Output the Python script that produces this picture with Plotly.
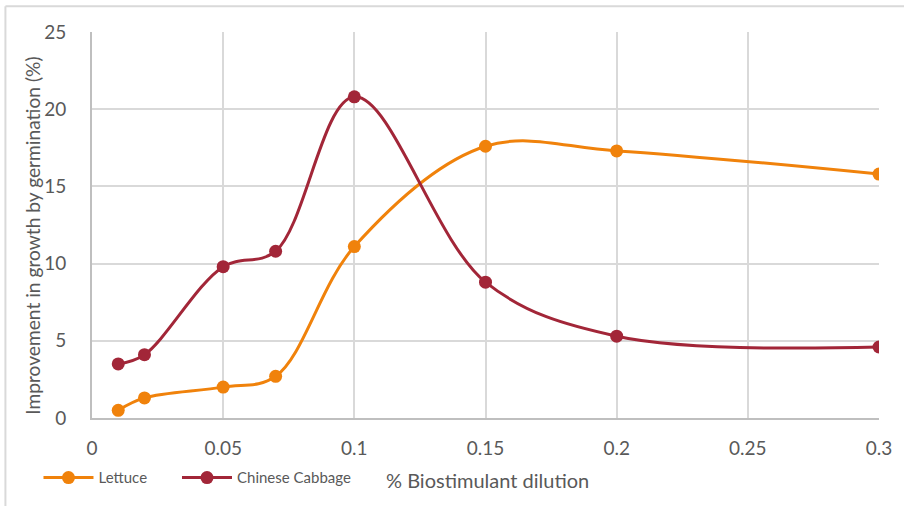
import plotly.graph_objects as go

# Dilution levels (% biostimulant) and germination improvement (%)
dilution = [0.01, 0.02, 0.05, 0.07, 0.1, 0.15, 0.2, 0.3]
lettuce = [0.5, 1.3, 2.0, 2.7, 11.1, 17.6, 17.3, 15.8]
chinese_cabbage = [3.5, 4.1, 9.8, 10.8, 20.8, 8.8, 5.3, 4.6]

x_ticks = [0, 0.05, 0.1, 0.15, 0.2, 0.25, 0.3]
x_tick_labels = ["0", "0.05", "0.1", "0.15", "0.2", "0.25", "0.3"]
y_ticks = [0, 5, 10, 15, 20, 25]

ORANGE = "#F0820B"
CRIMSON = "#A22638"
TEXT = "#595959"
GRID = "#D9D9D9"
AXIS = "#BFBFBF"
FONT = "Lato, Carlito, Calibri, sans-serif"

fig = go.Figure()
fig.add_trace(go.Scatter(
    x=dilution, y=lettuce, name="Lettuce",
    mode="lines+markers", legend="legend",
    line=dict(color=ORANGE, width=3, shape="spline", smoothing=1),
    marker=dict(color=ORANGE, size=13),
))
fig.add_trace(go.Scatter(
    x=dilution, y=chinese_cabbage, name="Chinese Cabbage",
    mode="lines+markers", legend="legend2",
    line=dict(color=CRIMSON, width=3, shape="spline", smoothing=1),
    marker=dict(color=CRIMSON, size=13),
))

legend_style = dict(
    orientation="h", y=-0.155, xanchor="left", yanchor="middle",
    font=dict(size=15, color=TEXT, family=FONT),
    itemwidth=50, bgcolor="rgba(0,0,0,0)",
)

fig.update_layout(
    width=904, height=506,
    margin=dict(l=92, r=23, t=32, b=87),
    paper_bgcolor="white", plot_bgcolor="white",
    font=dict(family=FONT, color=TEXT),
    showlegend=True,
    legend=dict(x=-0.068, **legend_style),
    legend2=dict(x=0.108, **legend_style),
    xaxis=dict(
        range=[0, 0.3], tickvals=x_ticks, ticktext=x_tick_labels,
        showgrid=True, gridcolor=GRID, gridwidth=2,
        showline=True, linecolor=AXIS, linewidth=2,
        zeroline=False, ticks="", ticklabelstandoff=12,
        tickfont=dict(size=19, color=TEXT, family=FONT),
    ),
    yaxis=dict(
        range=[0, 25], tickvals=y_ticks,
        showgrid=True, gridcolor=GRID, gridwidth=2,
        showline=True, linecolor=AXIS, linewidth=2,
        zeroline=False, ticks="", ticklabelstandoff=20,
        tickfont=dict(size=19, color=TEXT, family=FONT),
    ),
    annotations=[
        dict(text="% Biostimulant dilution", xref="paper", yref="paper",
             x=0.371, y=-0.16, xanchor="left", yanchor="middle",
             showarrow=False, font=dict(size=20, color=TEXT, family=FONT)),
        dict(text="Improvement in growth by germination (%)", xref="paper", yref="paper",
             x=-0.075, y=0.472, xanchor="center", yanchor="middle", textangle=-90,
             showarrow=False, font=dict(size=19.2, color=TEXT, family=FONT)),
    ],
    shapes=[
        # outer chart frame (top and left edges)
        dict(type="line", xref="paper", yref="paper", x0=-0.11, x1=1.05, y0=1.067, y1=1.067,
             line=dict(color="#D9D9D9", width=2)),
        dict(type="line", xref="paper", yref="paper", x0=-0.11, x1=-0.11, y0=1.067, y1=-0.23,
             line=dict(color="#D9D9D9", width=2)),
    ],
)

fig.write_html("out.html")
